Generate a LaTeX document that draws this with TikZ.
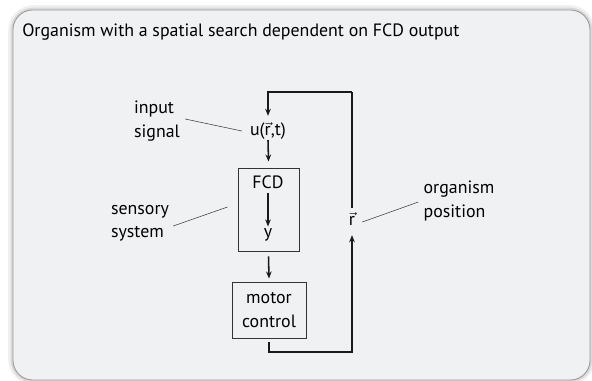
\documentclass[tikz,border=0pt]{standalone}
\usepackage{fontspec}
\setmainfont{PT Sans}
\usetikzlibrary{arrows.meta}
\definecolor{panelfill}{HTML}{F0F1F3}
\newcommand{\rvec}{\ensuremath{\vec{\mbox{r}}}}

\begin{document}
\begin{tikzpicture}[x=0.025cm, y=-0.025cm,
                font=\fontsize{12.7}{16.5}\selectfont,
                arr/.style={-{Stealth[length=5pt, width=4pt]}, line width=1.1pt, black!90},
                flow/.style={line width=1.1pt, black!90},
                leader/.style={line width=0.4pt, black!75},
                block/.style={rectangle, draw=black!80, line width=0.7pt, align=center},
                lbl/.style={inner sep=0pt, align=left}
            ]
            \useasboundingbox (0,0) rectangle (592,381);

            % Panel with soft shadow
            \draw[rounded corners=16, black!6, line width=4pt] (11,8) rectangle (592,382);
            \draw[rounded corners=15, black!15, line width=2pt] (12,9) rectangle (591,381);
            \draw[rounded corners=14, draw=black!40, fill=panelfill, line width=0.6pt] (13,10) rectangle (590,380);

            % Title
            \node[lbl, anchor=west] (title) at (22,32) {Organism with a spatial search dependent on FCD output};

            % Signal and sensory system
            \node[inner sep=0pt] (u) at (268,131) {u(\rvec,t)};
            \node[block, minimum width=61*0.025cm, minimum height=83*0.025cm] (sens) at (268.5,209.5) {};
            \node[inner sep=0pt] (fcd) at (268,182) {FCD};
            \node[inner sep=0pt] (y) at (268,235) {y};

            % Motor control
            \node[block, minimum width=74*0.025cm, minimum height=56*0.025cm, inner sep=1pt] (motor) at (269,310) {motor\\control};

            % Position
            \node[inner sep=0pt] (r) at (352,219) {\rvec};
            \coordinate (fbtop) at (352,92);
            \coordinate (fbbot) at (352,352);

            % Labels
            \node[lbl] (insig) at (157,121) {input\\signal};
            \node[lbl] (sensys) at (140,223.5) {sensory\\system};
            \node[lbl] (orgpos) at (459,201) {organism\\position};

            % Signal path
            \draw[arr] (u.south) -- ([shift={(0,-6)}]sens.north);
            \draw[arr] ([shift={(0,4)}]fcd.south) -- ([shift={(0,-2)}]y.north);
            \draw[arr] ([shift={(0,5)}]sens.south) -- ([shift={(0,-3)}]motor.north);

            % Feedback loop
            \draw[arr] ([shift={(0,4)}]motor.south) |- (fbbot) -- ([shift={(0,9)}]r.south);
            \draw[flow] ([shift={(0,-4)}]r.north) -- (fbtop);
            \draw[arr] (fbtop) -| ([shift={(0,-6)}]u.north);

            % Leaders
            \draw[leader] ([shift={(5,-2)}]insig.east) -- ([shift={(-8,0)}]u.west);
            \draw[leader] ([shift={(4,2.5)}]sensys.east) -- ([shift={(-10,-2.5)}]sens.west);
            \draw[leader] ([shift={(7,3)}]r.east) -- ([shift={(-5,1)}]orgpos.west);

        \end{tikzpicture}
\end{document}
